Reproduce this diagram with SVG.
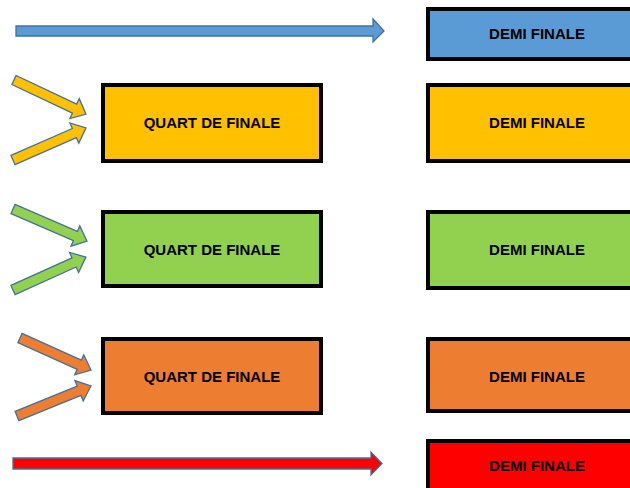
<svg xmlns="http://www.w3.org/2000/svg" width="630" height="488" viewBox="0 0 630 488">
<defs>
<style>
.box{stroke:#000;stroke-width:4}
.lbl{font-family:"Liberation Sans",Arial,sans-serif;font-weight:bold;font-size:15px;fill:#000;text-anchor:middle}
.arr{stroke:#41719C;stroke-width:1.3;stroke-linejoin:miter}
.blue{fill:#5B9BD5}.yellow{fill:#FFC000}.green{fill:#92D050}.orange{fill:#ED7D31}.red{fill:#FF0000}
</style>
</defs>
<rect width="630" height="488" fill="#fff"/>
<g id="connectors">
<path class="arr blue" d="M16,26 L373,26 L373,19 L384,31 L373,42 L373,36 L16,36 Z"/>
<path class="arr red" d="M13,458 L371,458 L371,452 L382,463.5 L371,475 L371,469 L13,469 Z"/>
<path class="arr yellow" transform="translate(14,80) rotate(25.3)" d="M0,-5 L67,-5 L67,-11 L79.6,0 L67,11 L67,5 L0,5 Z"/>
<path class="arr yellow" transform="translate(13,160) rotate(-23.7)" d="M0,-5 L67,-5 L67,-11 L79.7,0 L67,11 L67,5 L0,5 Z"/>
<path class="arr green" transform="translate(13,209) rotate(23.4)" d="M0,-5 L68,-5 L68,-11 L80.6,0 L68,11 L68,5 L0,5 Z"/>
<path class="arr green" transform="translate(13,290) rotate(-24.3)" d="M0,-5 L67,-5 L67,-11 L80,0 L67,11 L67,5 L0,5 Z"/>
<path class="arr orange" transform="translate(20,338) rotate(24.3)" d="M0,-5 L65,-5 L65,-11 L77.9,0 L65,11 L65,5 L0,5 Z"/>
<path class="arr orange" transform="translate(17,416) rotate(-22.1)" d="M0,-5 L67,-5 L67,-11 L79.8,0 L67,11 L67,5 L0,5 Z"/>
</g>
<g id="demi-blue"><rect class="box blue" x="428" y="9" width="210" height="50"/><text class="lbl" x="537" y="38.5">DEMI FINALE</text></g>
<g id="quart-yellow"><rect class="box yellow" x="103" y="85" width="218" height="76"/><text class="lbl" x="212" y="128">QUART DE FINALE</text></g>
<g id="demi-yellow"><rect class="box yellow" x="428" y="85" width="210" height="76"/><text class="lbl" x="537" y="128">DEMI FINALE</text></g>
<g id="quart-green"><rect class="box green" x="103" y="212" width="218" height="74"/><text class="lbl" x="212" y="255">QUART DE FINALE</text></g>
<g id="demi-green"><rect class="box green" x="428" y="212" width="210" height="76"/><text class="lbl" x="537" y="255">DEMI FINALE</text></g>
<g id="quart-orange"><rect class="box orange" x="103" y="339" width="218" height="74"/><text class="lbl" x="212" y="381.5">QUART DE FINALE</text></g>
<g id="demi-orange"><rect class="box orange" x="428" y="339" width="210" height="72"/><text class="lbl" x="537" y="381.5">DEMI FINALE</text></g>
<g id="demi-red"><rect class="box red" x="428" y="441" width="210" height="60"/><text class="lbl" x="537" y="470.5">DEMI FINALE</text></g>
</svg>
